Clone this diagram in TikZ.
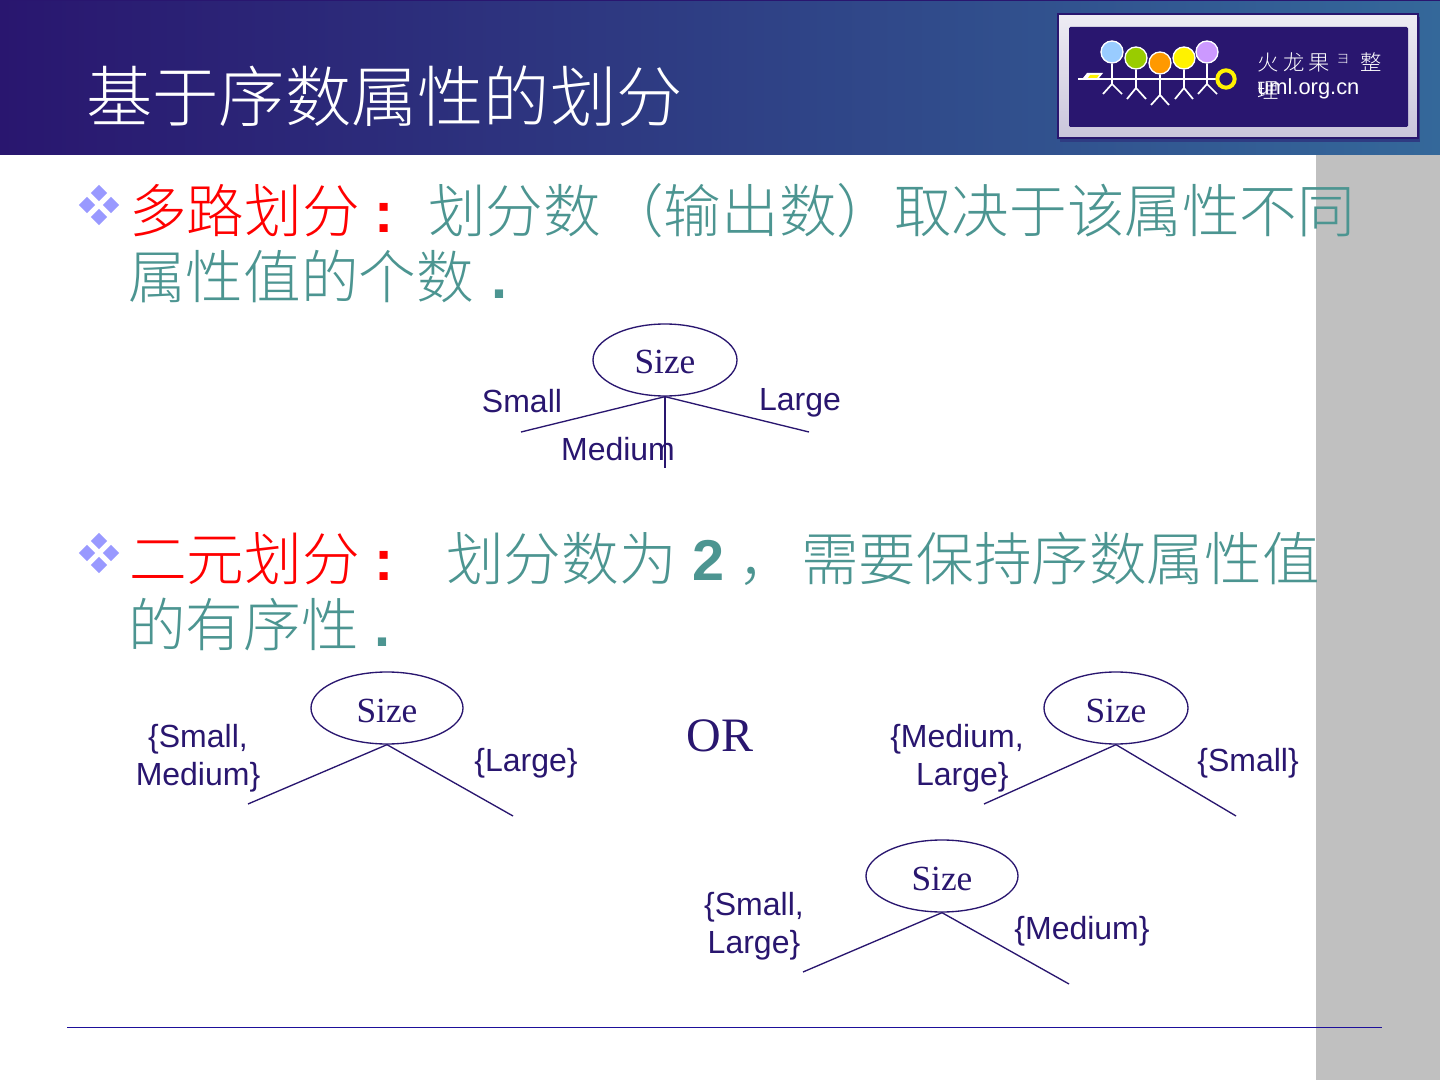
\documentclass[tikz,border=0pt]{standalone}
\usepackage{fontspec}
\setmainfont{Liberation Sans}
\newfontfamily\cjk{Noto Sans CJK SC Light}
\newfontfamily\serifnum{Liberation Serif}
\usetikzlibrary{shapes.geometric, calc, positioning}
\definecolor{navytext}{HTML}{29166F}
\definecolor{tealtext}{HTML}{4C9591}
\definecolor{bandgrey}{HTML}{C0C0C0}
\definecolor{bulletblue}{HTML}{9999FF}
\definecolor{headright}{HTML}{34689A}
\tikzstyle{attr} = [ellipse, draw=navytext, line width=1pt, minimum height=54pt, inner sep=0pt, text=navytext, text height=21pt, text depth=0pt, font=\serifnum\fontsize{26.5}{30}\selectfont]
\tikzstyle{branch} = [draw=navytext, line width=1pt]
\tikzstyle{lab} = [text=navytext, align=center, inner sep=0pt, font=\fontsize{24}{28.2}\selectfont]
\tikzstyle{body} = [anchor=base west, inner sep=0pt, text=tealtext, font=\cjk\fontsize{43.2}{50}\selectfont]
\tikzstyle{redbody} = [body, text=red]
\tikzstyle{markbody} = [body, font=\bfseries\fontsize{43.2}{50}\selectfont]
\tikzstyle{bulletdot} = [diamond, fill=bulletblue, minimum size=12.5pt, inner sep=0pt]
\tikzstyle{head} = [circle, draw=white, line width=1pt, minimum size=16.5pt, inner sep=0pt]
\tikzstyle{stick} = [draw=white, line width=1.3pt]
\tikzstyle{logotext} = [anchor=base west, inner sep=0pt, text=white, font=\cjk\fontsize{16}{18}\selectfont]
\begin{document}
\begin{tikzpicture}[x=0.75pt, y=-0.75pt]
  \useasboundingbox (0,0) rectangle (1440,1080);
  \fill[white] (0,0) rectangle (1440,1080);
  \fill[bandgrey] (1316,155) rectangle (1440,1080);
  \shade[left color=navytext, right color=headright] (0,0) rectangle (1440,155);
  \fill[navytext] (0,0) rectangle (1440,1.5);
  \node (title) [anchor=base west, inner sep=0pt, text=white, font=\cjk\fontsize{49.7}{55}\selectfont] at (86,122) {基于序数属性的划分};

  % logo
  \fill[navytext!55!headright] (1060,17) rectangle (1420,142);
  \shade[top color=white!92!navytext, bottom color=white!75!navytext, draw=navytext, line width=0.8pt] (1058,14) rectangle (1418,138);
  \fill[navytext, rounded corners=1pt] (1069,27) rectangle (1408,127);
  \draw[stick] (1078,79) -- (1217,79);
  \fill[white] (1087,73) -- (1103,73) -- (1099,78) -- (1083,78) -- cycle;
  \fill[yellow] (1090,75) -- (1099,75) -- (1097,78) -- (1088,78) -- cycle;
  \node (head1) [head, fill={rgb,255:red,153;green,204;blue,255}] at (1112,52) {};
  \node (head2) [head, fill={rgb,255:red,153;green,204;blue,0}] at (1136,58) {};
  \node (head3) [head, fill={rgb,255:red,255;green,153;blue,0}] at (1160,63) {};
  \node (head4) [head, fill=yellow] at (1184,58) {};
  \node (head5) [head, fill={rgb,255:red,204;green,153;blue,255}] at (1207,52) {};
  \draw[stick] (head1) -- (1112,84) (1103,94) -- (1112,84) -- (1122,94);
  \draw[stick] (head2) -- (1136,88) (1127,99) -- (1136,88) -- (1146,99);
  \draw[stick] (head3) -- (1160,95) (1151,105) -- (1160,95) -- (1169,105);
  \draw[stick] (head4) -- (1184,88) (1175,99) -- (1184,88) -- (1193,99);
  \draw[stick] (head5) -- (1207,84) (1198,94) -- (1207,84) -- (1217,94);
  \node (ring) [circle, draw=yellow, line width=3pt, fill=navytext, minimum size=13pt, inner sep=0pt] at (1226,79) {};
  \node (huo) [logotext] at (1257,71) {火};
  \node (long) [logotext] at (1283,71) {龙};
  \node (guo) [logotext] at (1308,71) {果};
  \node (dot) [logotext, font=\cjk\fontsize{10}{11}\selectfont] at (1336,64) {ヨ};
  \node (zheng) [logotext] at (1360,71) {整};
  \node (li) [logotext] at (1257,99) {理};
  \node (site) [logotext, font=\fontsize{16.4}{18}\selectfont] at (1257,95) {uml.org.cn};

  % first bullet
  \node (b1a) [bulletdot] at (99,193) {};
  \node (b1b) [bulletdot] at (111,205) {};
  \node (b1c) [bulletdot] at (87,205) {};
  \node (b1d) [bulletdot] at (99,217) {};
  \node (l1a) [redbody] at (129,233) {多路划分};
  \node (l1b) [markbody, text=red] at (374,233) {:};
  \node (l1c) [body] at (428,233) {划分数};
  \node (l1d) [body] at (606,233) {（输出数）取决于该属性不同};
  \node (l2a) [body] at (128,299) {属性值的个数};
  \node (l2b) [markbody] at (491,299) {.};

  % second bullet
  \node (b2a) [bulletdot] at (99,541) {};
  \node (b2b) [bulletdot] at (111,553) {};
  \node (b2c) [bulletdot] at (87,553) {};
  \node (b2d) [bulletdot] at (99,565) {};
  \node (l3a) [redbody] at (129,581) {二元划分};
  \node (l3b) [markbody, text=red] at (374,581) {:};
  \node (l3c) [body] at (446,581) {划分数为};
  \node (l3d) [markbody] at (692,581) {2};
  \node (l3e) [body] at (738,581) {，};
  \node (l3f) [body] at (801,581) {需要保持序数属性值};
  \node (l4a) [body] at (128,647) {的有序性};
  \node (l4b) [markbody] at (374,647) {.};

  % multiway split
  \node (size1) [attr, minimum width=108pt] at (665,360) {Size};
  \coordinate (s1l) at (521,432);
  \coordinate (s1m) at (665,468);
  \coordinate (s1r) at (809,432);
  \path [branch] (size1.south) -- (s1l);
  \path [branch] (size1.south) -- (s1m);
  \path [branch] (size1.south) -- (s1r);
  \node (small1) [lab] at (522,401) {Small};
  \node (large1) [lab] at (800,403) {Large};
  \node (medium1) [lab] at (618,449) {Medium};

  % binary splits
  \node (size2) [attr, minimum width=114pt] at (387,708) {Size};
  \coordinate (s2l) at (248,804);
  \coordinate (s2r) at (513,816);
  \path [branch] (size2.south) -- (s2l);
  \path [branch] (size2.south) -- (s2r);
  \node (left2) [lab] at (198,758) {\{Small,\\Medium\}};
  \node (right2) [lab] at (526,763) {\{Large\}};

  \node (orword) [text=navytext, inner sep=0pt, font=\serifnum\fontsize{36}{40}\selectfont] at (720,736) {OR};

  \node (size3) [attr, minimum width=108pt] at (1116,708) {Size};
  \coordinate (s3l) at (984,804);
  \coordinate (s3r) at (1236,816);
  \path [branch] (size3.south) -- (s3l);
  \path [branch] (size3.south) -- (s3r);
  \node (left3) [lab] at (957,758) {\{Medium,\\\hspace*{8pt}Large\}};
  \node (right3) [lab] at (1248,763) {\{Small\}};

  \node (size4) [attr, minimum width=114pt] at (942,876) {Size};
  \coordinate (s4l) at (803,972);
  \coordinate (s4r) at (1069,984);
  \path [branch] (size4.south) -- (s4l);
  \path [branch] (size4.south) -- (s4r);
  \node (left4) [lab] at (754,926) {\{Small,\\Large\}};
  \node (right4) [lab] at (1082,931) {\{Medium\}};

  \coordinate (rulel) at (67,1027);
  \coordinate (ruler) at (1382,1027);
  \draw[navytext!70!blue, line width=0.7pt] (rulel) -- (ruler);
\end{tikzpicture}
\end{document}
